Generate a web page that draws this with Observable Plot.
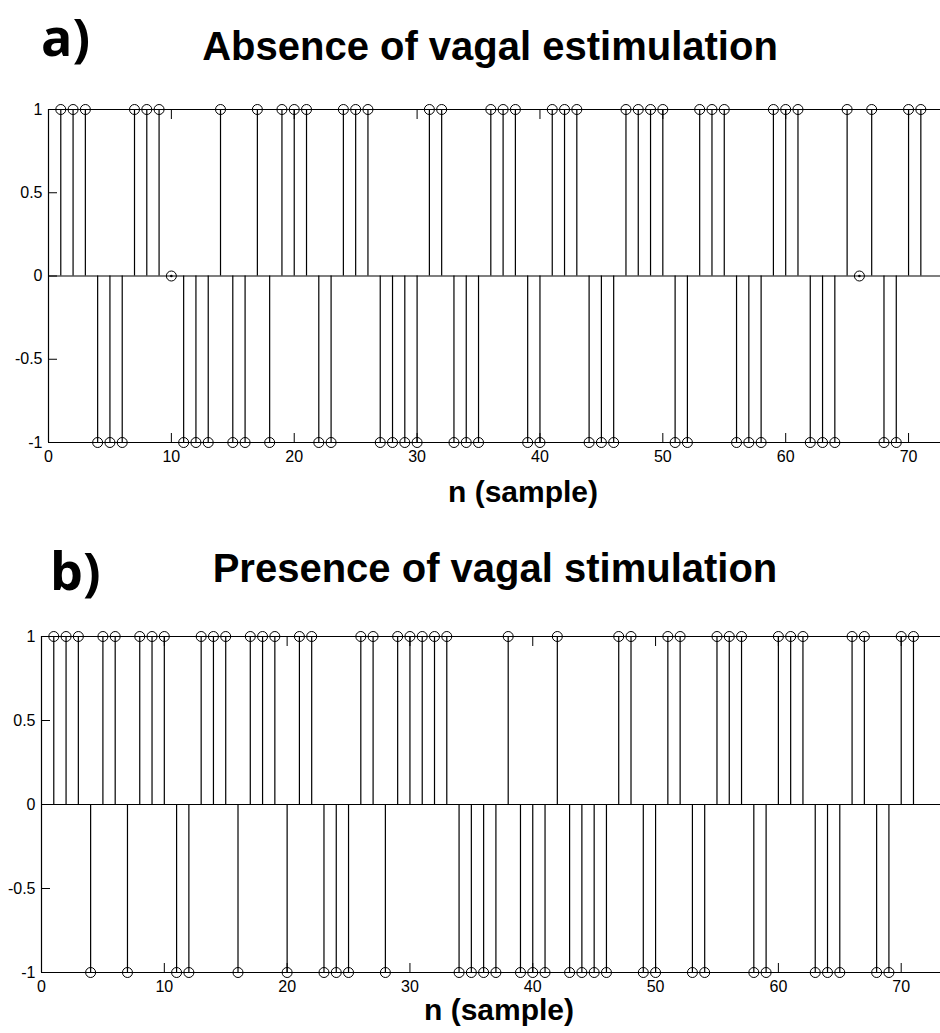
<!DOCTYPE html>
<html>
<head>
<meta charset="utf-8">
<script src="https://cdn.jsdelivr.net/npm/d3@7"></script>
<script src="https://cdn.jsdelivr.net/npm/@observablehq/plot@0.6"></script>
<style>
  html, body { margin: 0; padding: 0; background: #fff; }
  #fig { position: relative; width: 940px; height: 1033px; overflow: hidden; background: #fff; color: #000; }
  .abs { position: absolute; white-space: nowrap; color: #000; }
  .panel-letter { font-family: "Open Sans", "Liberation Sans", sans-serif; font-weight: 700; font-size: 52px; line-height: 52px; }
  .panel-title { font-family: "Liberation Sans", Arial, sans-serif; font-weight: 700; font-size: 40px; line-height: 40px; text-align: center; }
  .x-label { font-family: "Liberation Sans", Arial, sans-serif; font-weight: 700; font-size: 30px; line-height: 30px; text-align: center; }
</style>
</head>
<body>
<div id="fig"></div>
<script>
// ---- data ----
const panelTitles = ["Absence of vagal estimulation", "Presence of vagal stimulation"];
const panelLetters = ["a)", "b)"];
const xAxisLabel = "n (sample)";
const xTicks = [0, 10, 20, 30, 40, 50, 60, 70];
const yTicks = [-1, -0.5, 0, 0.5, 1];

// sample values, n = 1..71
const absenceValues = [
  1, 1, 1, -1, -1, -1, 1, 1, 1, 0,
  -1, -1, -1, 1, -1, -1, 1, -1, 1, 1,
  1, -1, -1, 1, 1, 1, -1, -1, -1, -1,
  1, 1, -1, -1, -1, 1, 1, 1, -1, -1,
  1, 1, 1, -1, -1, -1, 1, 1, 1, 1,
  -1, -1, 1, 1, 1, -1, -1, -1, 1, 1,
  1, -1, -1, -1, 1, 0, 1, -1, -1, 1, 1
];
const presenceValues = [
  1, 1, 1, -1, 1, 1, -1, 1, 1, 1,
  -1, -1, 1, 1, 1, -1, 1, 1, 1, -1,
  1, 1, -1, -1, -1, 1, 1, -1, 1, 1,
  1, 1, 1, -1, -1, -1, -1, 1, -1, -1,
  -1, 1, -1, -1, -1, -1, 1, 1, -1, -1,
  1, 1, -1, -1, 1, 1, 1, -1, -1, 1,
  1, 1, -1, -1, -1, 1, 1, -1, -1, 1, 1
];

// ---- drawing ----
const fig = document.getElementById("fig");

function addText(cls, text, css) {
  const d = document.createElement("div");
  d.className = "abs " + cls;
  d.textContent = text;
  Object.assign(d.style, css);
  fig.appendChild(d);
}

function stemPanel(values, {marginLeft, xMax, plotHeight}) {
  const data = values.map((v, i) => ({n: i + 1, v}));
  const marginTop = 14, marginBottom = 28;
  return Plot.plot({
    width: 940,
    height: marginTop + plotHeight + marginBottom,
    marginLeft, marginRight: 0, marginTop, marginBottom,
    style: {fontFamily: "'Liberation Sans', Arial, sans-serif", fontSize: "16px", background: "white", color: "black", overflow: "visible"},
    x: {domain: [0, xMax], ticks: xTicks, label: null},
    y: {domain: [-1, 1], ticks: yTicks, label: null},
    marks: [
      // axis box lines and stem baseline
      Plot.ruleY([-1, 1], {stroke: "black", strokeWidth: 1.2}),
      Plot.ruleY([0], {stroke: "black", strokeWidth: 1.2}),
      Plot.ruleX([0], {stroke: "black", strokeWidth: 1.2}),
      // inward ticks
      Plot.axisX({anchor: "bottom", ticks: xTicks, tickSize: -9, fill: "none", label: null, stroke: "black"}),
      Plot.axisX({anchor: "top", ticks: xTicks, tickSize: -9, fill: "none", label: null, stroke: "black"}),
      Plot.axisY({anchor: "left", ticks: yTicks, tickSize: -9, fill: "none", label: null, stroke: "black"}),
      // tick labels
      Plot.axisX({anchor: "bottom", ticks: xTicks, tickSize: 0, tickPadding: 8, label: null, tickFormat: d => String(d)}),
      Plot.axisY({anchor: "left", ticks: yTicks, tickSize: 0, tickPadding: 6, label: null, tickFormat: d => String(d)}),
      // stems
      Plot.ruleX(data, {x: "n", y1: 0, y2: "v", stroke: "black", strokeWidth: 1.2}),
      Plot.dot(data, {x: "n", y: "v", r: 5, stroke: "black", strokeWidth: 1, fill: "none"}),
      Plot.dot(data, {filter: d => d.v === 0, x: "n", y: "v", r: 1.3, fill: "black", stroke: "none"})
    ]
  });
}

// Panel a
addText("panel-letter", panelLetters[0], {left: "41px", top: "10px"});
addText("panel-title", panelTitles[0], {left: "0px", width: "980px", top: "26px"});
const svgA = stemPanel(absenceValues, {marginLeft: 48, xMax: 72.6, plotHeight: 333});
svgA.style.position = "absolute"; svgA.style.left = "0px"; svgA.style.top = "95px";
fig.appendChild(svgA);
addText("x-label", xAxisLabel, {left: "0px", width: "1046px", top: "477px"});

// Panel b
addText("panel-letter", panelLetters[1], {left: "50px", top: "544px"});
addText("panel-title", panelTitles[1], {left: "0px", width: "990px", top: "548px"});
const svgB = stemPanel(presenceValues, {marginLeft: 41, xMax: 73.2, plotHeight: 336});
svgB.style.position = "absolute"; svgB.style.left = "0px"; svgB.style.top = "622px";
fig.appendChild(svgB);
addText("x-label", xAxisLabel, {left: "0px", width: "998px", top: "995px"});
</script>
</body>
</html>
